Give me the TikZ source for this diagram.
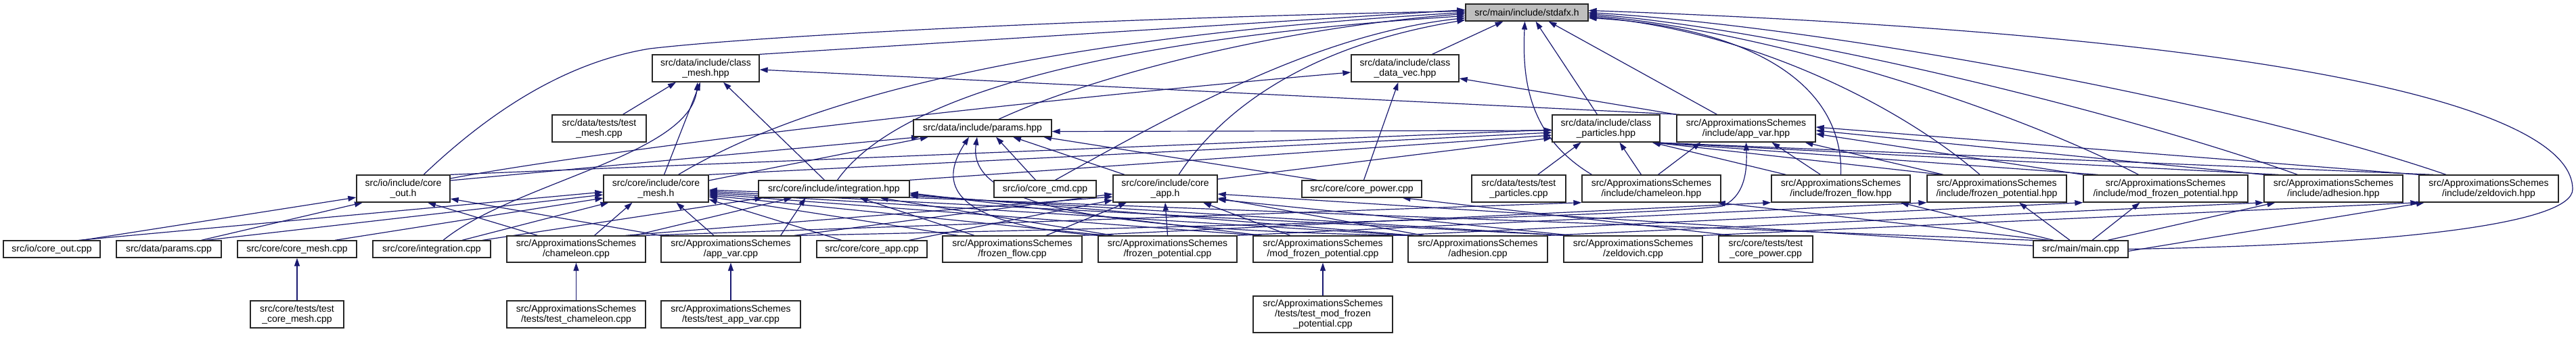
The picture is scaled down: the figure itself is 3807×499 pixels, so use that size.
\documentclass[tikz,border=0pt]{standalone}
\usepackage{fontspec}
\setmainfont{Liberation Sans}
\usetikzlibrary{arrows.meta}
\definecolor{edgeblue}{HTML}{191970}
\definecolor{boxgray}{HTML}{BFBFBF}
\pgfdeclarelayer{bg}
\pgfsetlayers{bg,main}
\newcommand\bx[7][]{%
  \pgfmathsetmacro\bw{#5-#3}\pgfmathsetmacro\bh{#6-#4}%
  \pgfmathsetmacro\bcx{(#3+#5)/2}\pgfmathsetmacro\bcy{(#4+#6)/2}%
  \node[box,minimum width=\bw pt,minimum height=\bh pt,#1] (#2) at (\bcx,\bcy) {#7};}
\begin{document}
\begin{tikzpicture}[x=1pt,y=-1pt,
  box/.style={draw=black!85,line width=1.3pt,fill=white,inner sep=0pt,align=center,font=\fontsize{14}{15}\selectfont},
  e/.style={draw=edgeblue,line width=1.2pt,-{Triangle[length=12pt,width=8pt]}}]
\useasboundingbox (0,0) rectangle (3807,499);
\begin{pgfonlayer}{bg}
\fill[white] (0,0) rectangle (3807,499);
\end{pgfonlayer}
% nodes
\bx[fill=boxgray]{stdafx}{2166}{6}{2347}{31}{src/main/include/stdafx.h}
\bx{cmesh}{964}{81}{1122}{121}{src/data/include/class\\\_mesh.hpp}
\bx{dvec}{1997}{81}{2156}{121}{src/data/include/class\\\_data\_vec.hpp}
\bx{tmesh}{816}{170}{955}{210}{src/data/tests/test\\\_mesh.cpp}
\bx{params}{1350}{177}{1554}{202}{src/data/include/params.hpp}
\bx{part}{2294}{170}{2453}{210}{src/data/include/class\\\_particles.hpp}
\bx{avh}{2478}{170}{2683}{210}{src/ApproximationsSchemes\\/include/app\_var.hpp}
\bx{couth}{527}{259}{665}{299}{src/io/include/core\\\_out.h}
\bx{cmeshh}{892}{259}{1047}{299}{src/core/include/core\\\_mesh.h}
\bx{integh}{1121}{267}{1344}{292}{src/core/include/integration.hpp}
\bx{ccmd}{1469}{267}{1620}{292}{src/io/core\_cmd.cpp}
\bx{capph}{1645}{259}{1799}{299}{src/core/include/core\\\_app.h}
\bx{cpow}{1924}{267}{2101}{292}{src/core/core\_power.cpp}
\bx{tpart}{2175}{259}{2314}{299}{src/data/tests/test\\\_particles.cpp}
\bx{chh}{2338}{259}{2543}{299}{src/ApproximationsSchemes\\/include/chameleon.hpp}
\bx{ffh}{2618}{259}{2823}{299}{src/ApproximationsSchemes\\/include/frozen\_flow.hpp}
\bx{fph}{2848}{259}{3054}{299}{src/ApproximationsSchemes\\/include/frozen\_potential.hpp}
\bx{mfph}{3079}{259}{3322}{299}{src/ApproximationsSchemes\\/include/mod\_frozen\_potential.hpp}
\bx{adhh}{3346}{259}{3551}{299}{src/ApproximationsSchemes\\/include/adhesion.hpp}
\bx{zelh}{3575}{259}{3781}{299}{src/ApproximationsSchemes\\/include/zeldovich.hpp}
\bx{coutc}{5}{356}{148}{381}{src/io/core\_out.cpp}
\bx{parc}{172}{356}{327}{381}{src/data/params.cpp}
\bx{cmeshc}{351}{356}{527}{381}{src/core/core\_mesh.cpp}
\bx{integc}{551}{356}{725}{381}{src/core/integration.cpp}
\bx{chc}{749}{349}{954}{388}{src/ApproximationsSchemes\\/chameleon.cpp}
\bx{avc}{977}{349}{1183}{388}{src/ApproximationsSchemes\\/app\_var.cpp}
\bx{cappc}{1207}{356}{1370}{381}{src/core/core\_app.cpp}
\bx{ffc}{1393}{349}{1599}{388}{src/ApproximationsSchemes\\/frozen\_flow.cpp}
\bx{fpc}{1623}{349}{1828}{388}{src/ApproximationsSchemes\\/frozen\_potential.cpp}
\bx{mfpc}{1852}{349}{2058}{388}{src/ApproximationsSchemes\\/mod\_frozen\_potential.cpp}
\bx{adhc}{2081}{349}{2287}{388}{src/ApproximationsSchemes\\/adhesion.cpp}
\bx{zelc}{2311}{349}{2516}{388}{src/ApproximationsSchemes\\/zeldovich.cpp}
\bx{tcpow}{2540}{349}{2679}{388}{src/core/tests/test\\\_core\_power.cpp}
\bx{mainc}{3005}{356}{3145}{381}{src/main/main.cpp}
\bx{tcmesh}{370}{445}{508}{485}{src/core/tests/test\\\_core\_mesh.cpp}
\bx{tch}{749}{445}{954}{485}{src/ApproximationsSchemes\\/tests/test\_chameleon.cpp}
\bx{tav}{977}{445}{1183}{485}{src/ApproximationsSchemes\\/tests/test\_app\_var.cpp}
\bx{tmfp}{1852}{438}{2058}{492}{src/ApproximationsSchemes\\/tests/test\_mod\_frozen\\\_potential.cpp}
\coordinate (loop) at (3802,280);
\begin{pgfonlayer}{bg}
% to stdafx
\draw[e] (cmesh.north east) -- ([yshift=4pt]stdafx.west);
\draw[e] ([xshift=30pt]couth.north) .. controls (740,150) and (850,90) .. (960,72) .. controls (1150,50) and (1700,25) .. ([yshift=2pt]stdafx.west);
\draw[e] ([xshift=24pt]params.north) .. controls (1620,110) and (1900,40) .. ([yshift=-2pt]stdafx.west);
\draw[e] ([xshift=33pt]cmeshh.north) .. controls (1150,170) and (1450,60) .. (stdafx.west);
\draw[e] ([xshift=5pt]integh.north) .. controls (1320,150) and (1600,60) .. ([yshift=-5pt]stdafx.west);
\draw[e] ([xshift=15pt]ccmd.north) .. controls (1750,160) and (1950,50) .. ([yshift=-8pt]stdafx.west);
\draw[e] ([xshift=20pt]capph.north) .. controls (1800,170) and (1920,70) .. ([yshift=-11pt]stdafx.west);
\draw[e] ([xshift=40pt]dvec.north) -- ([xshift=-35pt]stdafx.south);
\draw[e] ([xshift=-88pt]chh.north) .. controls (2255,200) and (2250,110) .. ([xshift=-3pt]stdafx.south);
\draw[e] ([xshift=-13pt]part.north) -- ([xshift=13pt]stdafx.south);
\draw[e] ([xshift=-43pt]avh.north) -- ([xshift=32pt]stdafx.south);
\draw[e] (ffh.north) .. controls (2725,120) and (2580,40) .. ([yshift=-8pt]stdafx.east);
\draw[e] ([xshift=-25pt]fph.north) .. controls (2800,150) and (2580,45) .. ([yshift=-6pt]stdafx.east);
\draw[e] ([xshift=-40pt]mfph.north) .. controls (2950,150) and (2600,45) .. ([yshift=-4pt]stdafx.east);
\draw[e] ([xshift=-53pt]adhh.north) .. controls (3150,170) and (2650,45) .. ([yshift=-2pt]stdafx.east);
\draw[e] ([xshift=-63pt]zelh.north) .. controls (3300,150) and (2700,40) .. (stdafx.east);
\draw[e] (mainc.east) .. controls (3550,362) and (3802,330) .. (loop) .. controls (3802,170) and (3450,55) .. ([yshift=3pt]stdafx.east);
% to class_mesh
\draw[e] ([xshift=35pt]tmesh.north) -- ([xshift=-44pt]cmesh.south);
\draw[e] ([xshift=12pt]cmeshh.north) -- ([xshift=-8pt]cmesh.south);
\draw[e] ([xshift=17pt]integc.north) .. controls (760,270) and (1020,230) .. ([xshift=-12pt]cmesh.south);
\draw[e] ([xshift=-14pt]integh.north) -- ([xshift=26pt]cmesh.south);
\draw[e] ([xshift=5pt]avh.north west) -- ([yshift=-2pt]cmesh.east);
% to class_data_vec
\draw[e] ([yshift=15pt]couth.east) .. controls (900,220) and (1500,150) .. ([yshift=-6pt]dvec.west);
\draw[e] ([xshift=3pt]cpow.north) -- ([xshift=-10pt]dvec.south);
\draw[e] (avh.north west) -- ([yshift=-15pt]dvec.east);
% to params
\draw[e] ([yshift=12pt]couth.east) -- ([xshift=-93pt]params.south);
\draw[e] ([yshift=12pt]cmeshh.east) -- ([xshift=-80pt]params.south);
\draw[e] ([xshift=-14pt]ccmd.north) -- ([xshift=20pt]params.south);
\draw[e] ([xshift=-60pt]capph.north) -- ([xshift=45pt]params.south);
\draw[e] (fpc.north west) .. controls (1380,330) and (1395,260) .. ([xshift=-20pt]params.south);
\draw[e] (adhc.north west) .. controls (1600,340) and (1430,300) .. ([xshift=-8pt]params.south);
\draw[e] ([yshift=-3pt]part.west) -- ([yshift=-5pt]params.east);
\draw[e] ([xshift=-66pt]cpow.north) -- ([xshift=90pt]params.south);
% to class_particles
\draw[e] (couth.north east) -- ([yshift=-2pt]part.west);
\draw[e] (cmeshh.north east) -- ([yshift=-6pt]part.west);
\draw[e] (integh.north east) -- ([yshift=-10pt]part.west);
\draw[e] ([yshift=14pt]capph.east) -- ([yshift=-14pt]part.west);
\draw[e] ([xshift=28pt]tpart.north) -- ([xshift=-37pt]part.south);
\draw[e] ([xshift=-15pt]chh.north) -- ([xshift=20pt]part.south);
\foreach \n in {ffh,fph,mfph,adhh,zelh} \draw[e] ([xshift=22pt]\n.north west) -- ([xshift=-12pt]part.south east);
% to app_var.hpp
\draw[e] ([xshift=10pt]chh.north) -- ([xshift=-67pt]avh.south);
\draw[e] (avc.north east) .. controls (1800,335) and (2450,318) .. (2545,305) .. controls (2580,290) and (2582,250) .. (avh.south);
\draw[e] ([xshift=-30pt]ffh.north) -- ([xshift=38pt]avh.south);
\draw[e] ([xshift=-79pt]fph.north) -- ([xshift=87pt]avh.south);
\draw[e] (mfph.north west) -- ([yshift=-8pt]avh.east);
\draw[e] (adhh.north west) -- ([yshift=-3pt]avh.east);
\draw[e] (zelh.north west) -- ([yshift=2pt]avh.east);
% to core_out.h
\draw[e] ([xshift=45pt]coutc.north) -- ([yshift=-13pt]couth.west);
\draw[e] ([xshift=48pt]parc.north) -- ([xshift=-60pt]couth.south);
\draw[e] ([xshift=-57pt]chc.north) -- ([xshift=36pt]couth.south);
\draw[e] (avc.north west) -- ([yshift=-15pt]couth.east);
% to core_mesh.h
\draw[e] ([xshift=56pt]cmeshc.north) -- ([yshift=-14pt]cmeshh.west);
\draw[e] ([xshift=40pt]coutc.north) -- ([yshift=-5pt]cmeshh.west);
\draw[e] ([xshift=55pt]parc.north) -- ([yshift=-9pt]cmeshh.west);
\draw[e] ([xshift=45pt]integc.north) -- ([xshift=-70pt]cmeshh.south);
\draw[e] ([xshift=27pt]chc.north) -- ([xshift=-35pt]cmeshh.south);
\draw[e] ([xshift=-25pt]avc.north) -- ([xshift=30pt]cmeshh.south);
\draw[e] ([xshift=-45pt]cappc.north) -- ([yshift=-16pt]cmeshh.east);
\draw[e] ([xshift=-80pt]ffc.north) -- ([yshift=-12pt]cmeshh.east);
\draw[e] ([xshift=-90pt]fpc.north) -- ([yshift=-10pt]cmeshh.east);
\draw[e] ([xshift=-95pt]mfpc.north) -- ([yshift=-8pt]cmeshh.east);
\draw[e] ([xshift=-98pt]adhc.north) -- ([yshift=-6pt]cmeshh.east);
\draw[e] ([xshift=-100pt]zelc.north) -- ([yshift=-4pt]cmeshh.east);
\draw[e] (mainc.north west) -- ([yshift=-2pt]cmeshh.east);
% to integration.hpp
\draw[e] ([xshift=75pt]integc.north) -- ([xshift=-105pt]integh.south);
\draw[e] ([xshift=-17pt]chc.north east) -- ([xshift=-62pt]integh.south);
\draw[e] ([xshift=-30pt]avc.north east) -- ([xshift=-42pt]integh.south);
\draw[e] ([xshift=-56pt]ffc.north) -- ([xshift=38pt]integh.south);
\draw[e] ([xshift=-80pt]fpc.north) -- ([xshift=68pt]integh.south);
\draw[e] ([xshift=-90pt]mfpc.north) -- ([yshift=-6pt]integh.east);
\draw[e] ([xshift=-95pt]adhc.north) -- ([yshift=-8pt]integh.east);
\draw[e] ([xshift=-100pt]zelc.north) -- ([yshift=-10pt]integh.east);
% to core_app.h
\draw[e] ([xshift=55pt]cappc.north) -- ([yshift=-17pt]capph.west);
\draw[e] ([xshift=-30pt]chc.north east) -- ([yshift=-12pt]capph.west);
\draw[e] ([xshift=-10pt]avc.north east) -- ([yshift=-8pt]capph.west);
\draw[e] ([xshift=50pt]ffc.north) -- ([xshift=-57pt]capph.south);
\draw[e] (fpc.north) -- (capph.south);
\draw[e] ([xshift=-48pt]mfpc.north) -- ([xshift=56pt]capph.south);
\draw[e] ([xshift=-80pt]adhc.north) -- ([yshift=-14pt]capph.east);
\draw[e] ([xshift=-90pt]zelc.north) -- ([yshift=-16pt]capph.east);
\draw[e] ([yshift=5pt]mainc.west) -- ([yshift=-8pt]capph.east);
% scheme headers
\draw[e] (chc.north east) -- (chh.south west);
\draw[e] ([xshift=-47pt]mainc.north) -- ([xshift=-6pt]chh.south east);
\draw[e] (ffc.north east) -- (ffh.south west);
\draw[e] ([xshift=-40pt]mainc.north) -- ([xshift=-15pt]ffh.south east);
\draw[e] (fpc.north east) -- (fph.south west);
\draw[e] ([xshift=-16pt]mainc.north) -- ([xshift=33pt]fph.south);
\draw[e] (mfpc.north east) -- (mfph.south west);
\draw[e] ([xshift=17pt]mainc.north) -- ([xshift=-38pt]mfph.south);
\draw[e] (adhc.north east) -- (adhh.south west);
\draw[e] ([xshift=40pt]mainc.north) -- ([xshift=-86pt]adhh.south);
\draw[e] (zelc.north east) -- (zelh.south west);
\draw[e] ([yshift=-3pt]mainc.east) -- ([xshift=-95pt]zelh.south);
% tests
\draw[e] ([xshift=-50pt]tcpow.north) -- ([xshift=60pt]cpow.south);
\draw[e] (tcmesh) -- (cmeshc);
\draw[e] (tch) -- (chc);
\draw[e] (tav) -- (avc);
\draw[e] (tmfp) -- (mfpc);
\end{pgfonlayer}
\end{tikzpicture}
\end{document}
